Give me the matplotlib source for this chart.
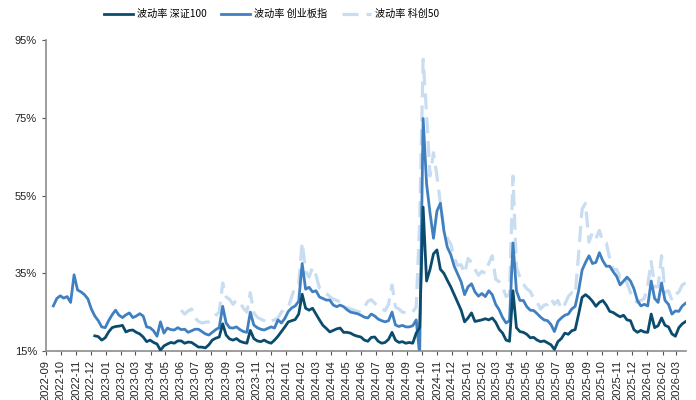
import numpy as np
import pandas as pd
import matplotlib
matplotlib.use('Agg')
import matplotlib.pyplot as plt
import matplotlib.dates as mdates
from matplotlib.ticker import FuncFormatter

plt.rcParams['font.family'] = ['Liberation Sans', 'Noto Sans CJK SC']

# weekly observation dates (Fridays)
dates = pd.date_range('2022-09-16', periods=184, freq='7D')

nan = np.nan

# 创业板指 volatility (%)
cy = [26.6, 28.5, 29.2, 28.6, 29.0, 27.5, 34.6, 30.7, 30.2, 29.5,
      28.4, 25.8, 24.0, 22.8, 21.2, 21.0, 22.8, 24.3, 25.5, 24.2,
      23.6, 24.3, 24.8, 23.6, 24.0, 24.6, 24.0, 21.2, 21.0, 20.2,
      18.8, 22.5, 19.6, 20.9, 20.5, 20.4, 21.0, 20.5, 20.6, 19.8,
      20.2, 20.6, 20.6, 20.0, 19.4, 19.1, 19.8, 20.5, 21.0, 26.5,
      22.2, 21.0, 20.9, 21.2, 20.5, 20.0, 19.8, 25.0, 21.7, 21.0,
      20.6, 20.4, 20.8, 21.2, 20.9, 23.0, 22.2, 23.4, 25.2, 26.1,
      26.6, 27.8, 37.5, 30.9, 31.4, 30.2, 30.5, 28.9, 28.5, 28.1,
      28.1, 26.8, 26.4, 26.8, 26.4, 25.6, 25.0, 24.8, 24.6, 24.2,
      23.7, 23.5, 24.5, 24.0, 23.2, 22.8, 22.5, 22.8, 25.0, 21.7,
      21.3, 21.6, 21.2, 21.2, 21.5, 23.0, 14.0, 74.8, 58.0, 50.5,
      44.0, 51.0, 53.0, 46.0, 41.7, 39.8, 36.8, 34.8, 32.8, 29.5,
      31.5, 32.3, 30.2, 29.1, 29.8, 29.0, 30.5, 29.5, 27.0, 25.6,
      23.6, 22.2, 22.8, 42.8, 30.5, 28.0, 28.0, 26.4, 25.5, 25.4,
      24.6, 23.7, 23.0, 22.8, 21.8, 20.0, 22.6, 23.5, 24.2, 24.5,
      25.8, 26.5, 30.5, 35.8, 37.8, 39.5, 37.5, 37.8, 40.3, 38.2,
      36.8, 36.8, 35.4, 34.2, 32.0, 33.0, 34.0, 33.0, 31.0, 28.0,
      26.6, 27.0, 26.6, 33.0, 28.5, 27.5, 32.5, 28.0, 27.0, 24.5,
      25.3, 25.2, 26.6, 27.3]

# 深证100 volatility (%)
sz = [nan] * 12 + [
      18.9, 18.7, 17.8, 18.4, 19.9, 21.0, 21.3, 21.4,
      21.6, 19.9, 20.3, 20.4, 19.8, 19.4, 18.6, 17.4, 17.8, 17.2,
      16.8, 15.2, 16.3, 16.8, 17.2, 17.0, 17.6, 17.6, 17.0, 17.3,
      17.2, 16.6, 16.0, 16.0, 15.8, 16.6, 17.8, 18.3, 18.6, 22.0,
      19.1, 18.1, 17.8, 18.2, 17.5, 17.2, 17.0, 20.3, 18.2, 17.6,
      17.4, 17.8, 17.3, 17.0, 17.8, 18.8, 20.0, 21.2, 22.5, 22.8,
      23.1, 24.5, 29.6, 26.0, 25.5, 26.0, 24.5, 23.0, 21.6, 20.8,
      19.9, 20.3, 20.7, 20.9, 19.8, 19.8, 19.6, 19.1, 18.8, 18.6,
      17.8, 17.5, 18.5, 18.6, 17.5, 17.0, 17.2, 18.0, 19.8, 17.8,
      17.2, 17.4, 17.0, 17.2, 17.0, 19.6, 21.0, 52.0, 33.0, 36.0,
      40.0, 41.0, 36.0, 35.0, 33.2, 31.5, 29.5, 27.5, 25.5, 22.5,
      23.5, 24.8, 22.6, 22.8, 23.0, 23.3, 23.0, 23.5, 22.4, 20.6,
      19.6, 17.8, 17.5, 30.5, 21.0, 20.0, 19.8, 19.3, 18.4, 18.5,
      17.8, 17.4, 17.6, 17.1, 16.6, 15.4, 17.4, 18.2, 19.6, 19.3,
      20.2, 20.5, 24.5, 28.8, 29.5, 28.8, 27.8, 26.5, 27.5, 28.0,
      26.8, 25.2, 24.9, 24.3, 23.8, 24.2, 23.0, 22.8, 20.5, 19.8,
      20.3, 19.9, 19.8, 24.5, 21.0, 21.5, 23.5, 21.6, 21.2, 19.4,
      18.8, 21.0, 22.0, 22.6]

# 科创50 volatility (%)
kc = [nan] * 37 + [
      25.5, 24.5, 25.3,
      25.8, 23.5, 22.6, 22.2, 22.4, 22.5, 23.3, 24.2, 25.0, 32.5,
      28.9, 28.3, 27.0, 28.1, 27.5, 26.0, 25.0, 30.0, 24.8, 23.7,
      23.2, 22.8, 22.2, 22.8, 23.0, 23.5, 25.0, 26.0, 26.3, 29.0,
      31.8, 32.3, 43.0, 35.5, 34.0, 36.5, 34.5, 31.2, 30.5, 29.8,
      29.0, 28.3, 28.0, 27.6, 26.5, 26.1, 25.8, 25.5, 25.2, 25.0,
      26.3, 27.8, 28.2, 27.3, 26.3, 25.8, 25.4, 27.0, 32.0, 26.3,
      25.8, 25.0, 24.8, 25.2, 25.0, 26.3, 48.0, 90.0, 76.0, 60.0,
      66.0, 60.0, 53.0, 46.5, 44.0, 42.5, 39.0, 37.0, 37.2, 35.0,
      38.8, 37.8, 36.0, 34.5, 35.5, 35.0, 37.5, 39.5, 33.5, 32.8,
      31.5, 29.0, 29.5, 60.0, 36.5, 34.0, 32.2, 31.0, 30.3, 28.5,
      27.5, 25.8, 26.8, 27.0, 28.5, 27.0, 28.0, 25.8, 27.0, 29.0,
      30.0, 29.5, 40.0, 51.5, 53.0, 43.0, 45.5, 44.0, 46.0, 43.0,
      42.8, 38.8, 36.0, 36.0, 34.0, 34.5, 32.5, 30.0, 28.0, 27.5,
      28.0, 28.5, 32.0, 38.0, 31.5, 31.5, 39.5, 30.0, 30.5, 28.0,
      29.5, 30.2, 32.0, 32.5]

labels = ['波动率 深证100', '波动率 创业板指', '波动率 科创50']
colors = ['#0b4c6e', '#4080c0', '#c8ddf1']

fig = plt.figure(figsize=(6.96, 4.0), dpi=100)
ax = fig.add_axes([0.066, 0.1225, 0.92, 0.7775])

l3, = ax.plot(dates, kc, color=colors[2], lw=2.3, dashes=(5, 2.5), zorder=1)
l2, = ax.plot(dates, cy, color=colors[1], lw=2.0, zorder=2)
l1, = ax.plot(dates, sz, color=colors[0], lw=2.0, zorder=3)

ax.set_ylim(15, 95)
ax.set_yticks([15, 35, 55, 75, 95])
ax.yaxis.set_major_formatter(FuncFormatter(lambda v, p: '%d%%' % v))
ax.set_xlim(pd.Timestamp('2022-09-01'), pd.Timestamp('2026-03-21'))
ax.xaxis.set_major_locator(mdates.MonthLocator())
ax.xaxis.set_major_formatter(mdates.DateFormatter('%Y-%m'))
plt.setp(ax.get_xticklabels(), rotation=90)
ax.tick_params(axis='both', labelsize=8, length=3, color='#555555', labelcolor='#222222')

for s in ['top', 'right']:
    ax.spines[s].set_visible(False)
for s in ['left', 'bottom']:
    ax.spines[s].set_color('#8c8c8c')
    ax.spines[s].set_linewidth(1.2)

fig.legend([l1, l2, l3], labels, loc='center', bbox_to_anchor=(0.39, 0.965), ncol=3,
           frameon=False, handlelength=2.9, handletextpad=0.4, columnspacing=1.4,
           prop={'family': ['Noto Sans CJK SC', 'DejaVu Sans'], 'size': 7.3})

fig.savefig('out.png', dpi=100)
